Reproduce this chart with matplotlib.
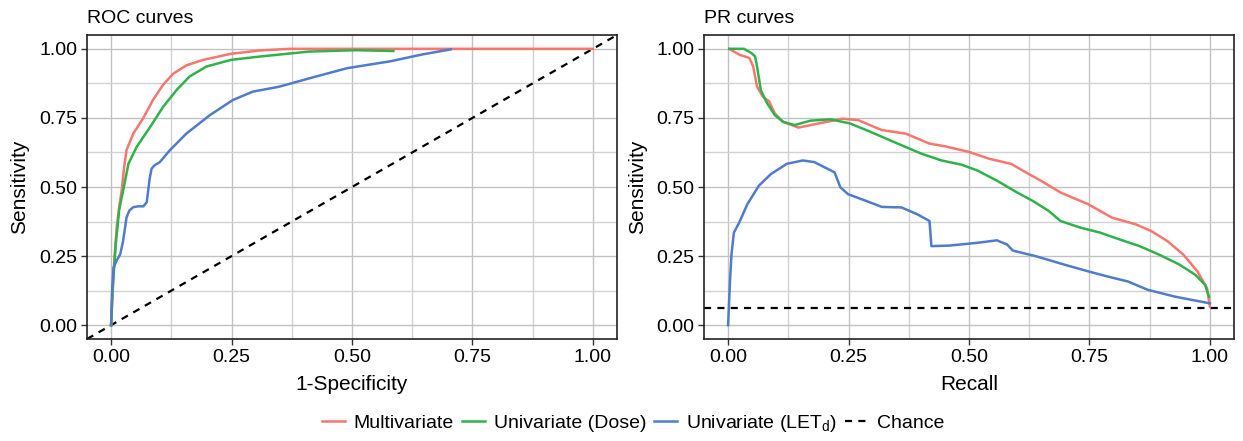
import matplotlib
matplotlib.use("Agg")
import matplotlib.pyplot as plt
from matplotlib.ticker import MultipleLocator
from matplotlib.lines import Line2D

plt.rcParams['font.family'] = ['Liberation Sans', 'DejaVu Sans']
plt.rcParams['mathtext.fontset'] = 'custom'
plt.rcParams['mathtext.rm'] = 'Liberation Sans'
plt.rcParams['mathtext.default'] = 'regular'

# ---------------- data ----------------
series_names = ["Multivariate", "Univariate (Dose)", r"Univariate (LET$_\mathregular{d}$)"]
series_colors = ["#F8766D", "#30B24A", "#4F7CCB"]

# ROC curves (x = 1-Specificity, y = Sensitivity)
roc_multi_x = [0.0, 0.003, 0.007, 0.012, 0.017, 0.022, 0.027, 0.032, 0.046, 0.067, 0.087, 0.108, 0.129, 0.156, 0.191, 0.249, 0.308, 0.37, 0.6, 1.0]
roc_multi_y = [0.0, 0.12, 0.243, 0.36, 0.43, 0.487, 0.57, 0.633, 0.693, 0.75, 0.815, 0.87, 0.91, 0.94, 0.96, 0.982, 0.994, 1.0, 1.0, 1.0]

roc_dose_x = [0.0, 0.004, 0.01, 0.017, 0.025, 0.036, 0.053, 0.081, 0.108, 0.136, 0.163, 0.198, 0.249, 0.308, 0.411, 0.508, 0.586]
roc_dose_y = [0.0, 0.15, 0.30, 0.42, 0.487, 0.584, 0.645, 0.717, 0.79, 0.851, 0.9, 0.936, 0.96, 0.972, 0.99, 0.995, 0.992]

roc_let_x = [0.0, 0.002, 0.005, 0.012, 0.019, 0.025, 0.032, 0.038, 0.046, 0.056, 0.067, 0.074, 0.077, 0.08, 0.084, 0.09, 0.101, 0.122, 0.156, 0.205, 0.253, 0.294, 0.349, 0.411, 0.49, 0.58, 0.647, 0.705]
roc_let_y = [0.0, 0.12, 0.208, 0.235, 0.257, 0.305, 0.39, 0.415, 0.427, 0.43, 0.43, 0.445, 0.487, 0.53, 0.566, 0.578, 0.59, 0.633, 0.693, 0.76, 0.815, 0.845, 0.863, 0.893, 0.93, 0.955, 0.98, 0.998]

# PR curves (x = Recall, y = Precision, labelled Sensitivity)
pr_multi_x = [0.0025, 0.023, 0.044, 0.052, 0.06, 0.072, 0.085, 0.097, 0.114, 0.146, 0.188, 0.237, 0.27, 0.319, 0.369, 0.418, 0.451, 0.5, 0.542, 0.587, 0.624, 0.649, 0.69, 0.747, 0.797, 0.846, 0.879, 0.912, 0.945, 0.974, 0.994, 1.0]
pr_multi_y = [1.0, 0.979, 0.967, 0.937, 0.864, 0.827, 0.81, 0.766, 0.736, 0.715, 0.73, 0.747, 0.742, 0.706, 0.693, 0.657, 0.647, 0.627, 0.602, 0.584, 0.547, 0.523, 0.48, 0.438, 0.389, 0.365, 0.34, 0.304, 0.255, 0.195, 0.134, 0.067]

pr_dose_x = [0.0025, 0.033, 0.048, 0.056, 0.06, 0.068, 0.081, 0.097, 0.114, 0.138, 0.171, 0.212, 0.253, 0.295, 0.352, 0.402, 0.443, 0.484, 0.517, 0.558, 0.6, 0.632, 0.665, 0.69, 0.731, 0.772, 0.813, 0.854, 0.895, 0.937, 0.97, 0.99, 0.998]
pr_dose_y = [1.0, 1.0, 0.985, 0.973, 0.937, 0.85, 0.803, 0.76, 0.736, 0.724, 0.74, 0.745, 0.73, 0.70, 0.657, 0.62, 0.596, 0.581, 0.56, 0.523, 0.48, 0.45, 0.414, 0.377, 0.353, 0.335, 0.31, 0.286, 0.255, 0.219, 0.182, 0.146, 0.103]

pr_let_x = [0.0, 0.004, 0.007, 0.012, 0.023, 0.04, 0.064, 0.089, 0.122, 0.155, 0.179, 0.221, 0.233, 0.249, 0.286, 0.319, 0.36, 0.393, 0.418, 0.422, 0.459, 0.517, 0.558, 0.579, 0.591, 0.64, 0.698, 0.747, 0.788, 0.83, 0.871, 0.928, 1.0]
pr_let_y = [0.0, 0.16, 0.255, 0.335, 0.371, 0.438, 0.505, 0.547, 0.584, 0.596, 0.59, 0.553, 0.499, 0.474, 0.45, 0.428, 0.426, 0.401, 0.377, 0.286, 0.288, 0.298, 0.307, 0.292, 0.27, 0.249, 0.219, 0.195, 0.176, 0.158, 0.128, 0.103, 0.079]

pr_chance = 0.061

tick_vals = [0.0, 0.25, 0.5, 0.75, 1.0]
tick_labels = ["0.00", "0.25", "0.50", "0.75", "1.00"]

# ---------------- figure ----------------
W, H = 1243, 441
fig = plt.figure(figsize=(W / 100, H / 100), dpi=100)

def px_axes(l, r, t, b):
    return fig.add_axes([l / W, 1 - b / H, (r - l) / W, (b - t) / H])

ax1 = px_axes(87, 617, 35, 339)
ax2 = px_axes(704, 1234, 35, 339)

FS = 14
LW = 1.8
DASH = (0, (3.2, 2.8))

def style(ax):
    ax.set_xlim(-0.05, 1.05)
    ax.set_ylim(-0.05, 1.05)
    ax.set_xticks(tick_vals)
    ax.set_xticklabels(tick_labels)
    ax.set_yticks(tick_vals)
    ax.set_yticklabels(tick_labels)
    ax.xaxis.set_minor_locator(MultipleLocator(0.125))
    ax.yaxis.set_minor_locator(MultipleLocator(0.125))
    ax.grid(which='major', color='#C2C2C2', lw=1.0)
    ax.grid(which='minor', color='#D2D2D2', lw=1.0)
    ax.set_axisbelow(True)
    ax.tick_params(which='major', length=4, width=1.0, color='#333333', labelsize=FS, labelcolor='black', pad=3)
    ax.tick_params(which='minor', length=0)
    for s in ax.spines.values():
        s.set_color('#222222')
        s.set_linewidth(1.2)

style(ax1)
style(ax2)

# ROC
ax1.plot([-0.05, 1.05], [-0.05, 1.05], color='black', ls=DASH, lw=1.6, zorder=2)
ax1.plot(roc_multi_x, roc_multi_y, color=series_colors[0], lw=LW, zorder=3)
ax1.plot(roc_dose_x, roc_dose_y, color=series_colors[1], lw=LW, zorder=3)
ax1.plot(roc_let_x, roc_let_y, color=series_colors[2], lw=LW, zorder=3)

# PR
ax2.axhline(pr_chance, color='black', ls=DASH, lw=1.6, zorder=2)
ax2.plot(pr_multi_x, pr_multi_y, color=series_colors[0], lw=LW, zorder=3)
ax2.plot(pr_dose_x, pr_dose_y, color=series_colors[1], lw=LW, zorder=3)
ax2.plot(pr_let_x, pr_let_y, color=series_colors[2], lw=LW, zorder=3)

# titles and labels
fig.text(87 / W, 1 - 18.5 / H, "ROC curves", fontsize=FS, ha='left', va='center')
fig.text(704 / W, 1 - 18.5 / H, "PR curves", fontsize=FS, ha='left', va='center')
fig.text(352 / W, 1 - 385 / H, "1-Specificity", fontsize=FS + 1, ha='center', va='center')
fig.text(969 / W, 1 - 385 / H, "Recall", fontsize=FS + 1, ha='center', va='center')
fig.text(20 / W, 1 - 187 / H, "Sensitivity", fontsize=FS + 1, ha='center', va='center', rotation=90)
fig.text(638 / W, 1 - 187 / H, "Sensitivity", fontsize=FS + 1, ha='center', va='center', rotation=90)

handles = [Line2D([], [], color=c, lw=LW) for c in series_colors]
handles.append(Line2D([], [], color='black', ls=DASH, lw=1.6))
labels = series_names + ["Chance"]
fig.legend(handles, labels, loc='center', bbox_to_anchor=(633 / W, 1 - 423 / H), ncol=4,
           frameon=False, fontsize=FS, handlelength=1.2, handletextpad=0.45, columnspacing=0.4,
           borderaxespad=0, borderpad=0)

fig.savefig("out.png", dpi=100)
